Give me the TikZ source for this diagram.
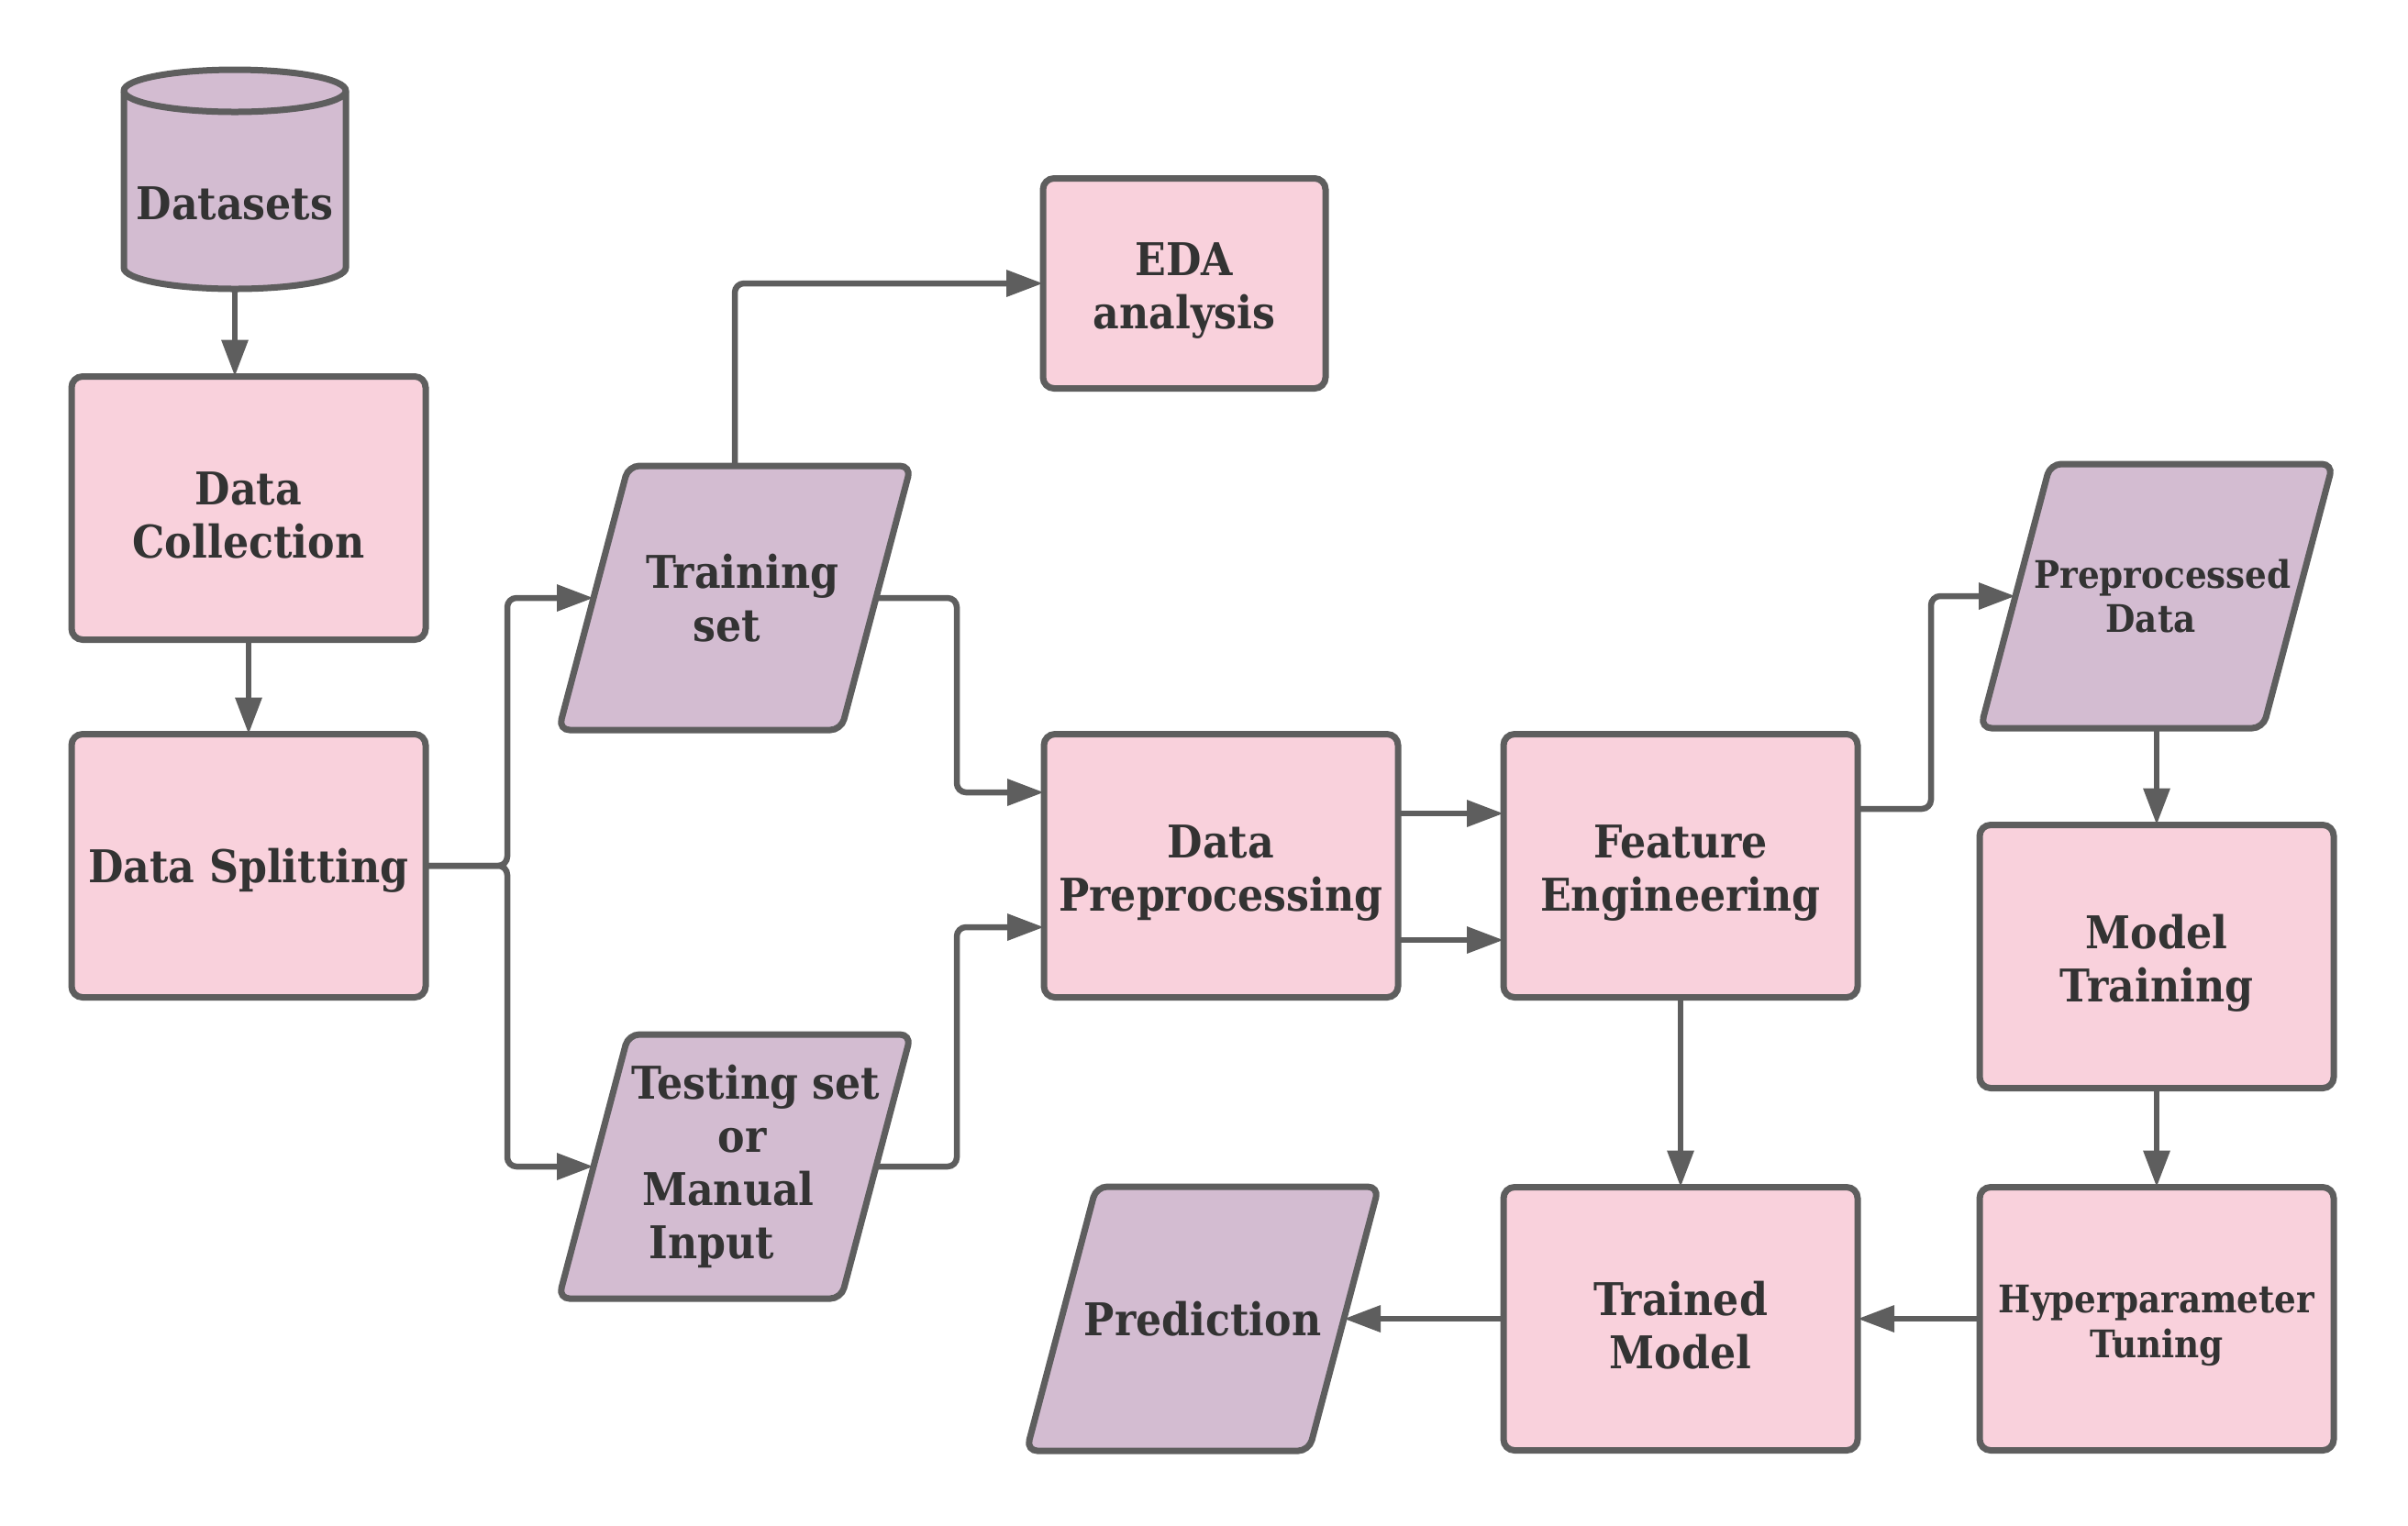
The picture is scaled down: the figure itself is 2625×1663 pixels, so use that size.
\documentclass[tikz,border=0pt]{standalone}
\usepackage{fontspec}
\setmainfont{DejaVu Serif}[FakeStretch=0.9]
\usetikzlibrary{arrows.meta,calc,backgrounds}
\definecolor{pinkf}{HTML}{F9D1DC}
\definecolor{purf}{HTML}{D3BCD1}
\definecolor{edgec}{HTML}{5E5E5E}
\definecolor{txtc}{HTML}{333333}
\newcommand{\boxstrut}{\rule{0pt}{14.5pt}}
\newcommand{\drawpara}[1]{%
  \begin{pgfonlayer}{background}
  \filldraw[parashape] ($(#1.north west)+(76,0)$) -- (#1.north east)
    -- ($(#1.south east)+(-76,0)$) -- (#1.south west) -- cycle;
  \end{pgfonlayer}
  \coordinate (#1-l) at ($(#1.west)+(38,0)$);
  \coordinate (#1-r) at ($(#1.east)+(-38,0)$);}
\begin{document}
\begin{tikzpicture}[x=0.1mm,y=-0.1mm,
  bigtxt/.style={font=\bfseries\fontsize{14}{16.5}\selectfont},
  smalltxt/.style={font=\bfseries\fontsize{11.8}{13.9}\selectfont},
  box/.style={draw=edgec, fill=pinkf, line width=0.7mm, rounded corners=1.2mm,
    minimum width=38.6mm, minimum height=28.7mm, align=center, text=txtc,
    inner sep=0pt, outer sep=0pt, bigtxt},
  para/.style={minimum width=38.4mm, minimum height=28.8mm,
    align=center, text=txtc, inner sep=0pt, outer sep=0pt, bigtxt},
  parashape/.style={draw=edgec, fill=purf, line width=0.7mm, rounded corners=1.2mm},
  cyl/.style={draw=edgec, fill=purf, line width=0.7mm},
  conn/.style={draw=edgec, line width=0.65mm, rounded corners=1mm,
    -{Triangle[length=4mm,width=2.8mm]}}
]
\useasboundingbox (0,0) rectangle (2625,1663);
% cylinder
\filldraw[cyl] (135,99) -- (135,292) arc[start angle=180,end angle=0,x radius=121,y radius=23]
  -- (377,99) arc[start angle=0,end angle=-180,x radius=121,y radius=23] -- cycle;
\draw[cyl, fill=none] (377,99) arc[start angle=0,end angle=180,x radius=121,y radius=23];
\node[minimum width=24.8mm, minimum height=24.4mm, inner sep=0pt, outer sep=0pt] (ds) at (256,196) {};
\node[text=txtc, bigtxt, inner sep=0pt] (dstxt) at (256,222) {Datasets};

\node[box] (col) at (271,554) {\boxstrut Data\\Collection};
\node[box] (spl) at (271,944) {\rule{0pt}{13.5pt}Data Splitting};
\node[para] (train) at (801,652) {\rule{1.7mm}{0pt}Training\\set\rule{1.7mm}{0pt}};
\drawpara{train}
\node[box, minimum width=30.8mm, minimum height=22.9mm] (eda) at (1291,309) {\boxstrut EDA\\analysis};
\node[para] (test) at (801,1272) {\rule{4.6mm}{0pt}Testing set\\\rule{1.6mm}{0pt}or\\Manual\rule{1.4mm}{0pt}\\Input\rule{5mm}{0pt}};
\drawpara{test}
\node[box] (prep) at (1331,944) {\boxstrut Data\\Preprocessing};
\node[box] (feat) at (1832,944) {\boxstrut Feature\\Engineering};
\node[para, smalltxt] (ppd) at (2351,650) {\rule{1.3mm}{0pt}Preprocessed\\Data\rule{1.3mm}{0pt}};
\drawpara{ppd}
\node[box] (mtr) at (2351,1043) {\boxstrut Model\\Training};
\node[box, smalltxt] (hyp) at (2351,1438) {\rule{0pt}{13pt}Hyperparameter\\Tuning};
\node[box] (trm) at (1832,1438) {\boxstrut Trained\\Model};
\node[para] (pred) at (1311,1438) {Prediction};
\drawpara{pred}

% connectors
\draw[conn] (ds.south) -- (ds.south |- col.north);
\draw[conn] (col.south) -- (spl.north);
\draw[conn] (spl.east) -- ++(89,0) |- (train-l);
\draw[conn] (spl.east) -- ++(89,0) |- (test-l);
\draw[conn] (train.north) |- (eda.west);
\draw[conn] (train-r) -- ++(88,0) |- ($(prep.west)+(0,-80)$);
\draw[conn] (test-r) -- ++(88,0) |- ($(prep.west)+(0,67)$);
\draw[conn] ($(prep.east)+(0,-57)$) -- ($(feat.west)+(0,-57)$);
\draw[conn] ($(prep.east)+(0,81)$) -- ($(feat.west)+(0,81)$);
\draw[conn] ($(feat.east)+(0,-62)$) -- ++(80,0) |- (ppd-l);
\draw[conn] (ppd.south) -- (mtr.north);
\draw[conn] (mtr.south) -- (hyp.north);
\draw[conn] (hyp.west) -- (trm.east);
\draw[conn] (feat.south) -- (trm.north);
\draw[conn] (trm.west) -- (pred-r);
\end{tikzpicture}
\end{document}
